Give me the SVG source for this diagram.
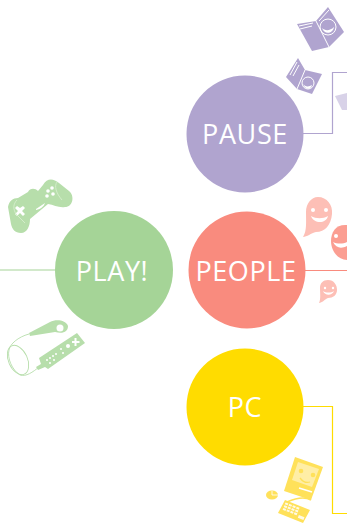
<svg xmlns="http://www.w3.org/2000/svg" width="347" height="523" viewBox="0 0 347 523">
<style>
.t{font-family:"Open Sans","Liberation Sans",sans-serif;font-size:27px;font-weight:500;letter-spacing:.6px;fill:#fff;text-anchor:middle}
.c{fill:none;stroke-width:1.2}
.pu{fill:#b0a4cf}.sa{fill:#fdbfb6}.gr{fill:#b7deab}.ye{fill:#ffe15a}
.w{fill:#fff}
.l{fill:none;stroke:#fff;stroke-width:1}
.cord{fill:none;stroke:#b7deab;stroke-width:.9}
</style>
<g id="connectors">
<path class="c" stroke="#b0a4cf" d="M303,133.500H332.500V72.500H347"/>
<path class="c" stroke="#f98b7e" d="M305,270.500H347"/>
<path class="c" stroke="#a5d497" d="M0,270H56"/>
<path class="c" stroke="#ffdc00" d="M303,406.500H332.500V513.500H347"/>
</g>
<g id="pause-icons">
<path class="pu" d="M297,24 L316,21 L328,7 L344,32 L329,47 L312,51 Z"/>
<path class="l" d="M316,21 L329,47 M299,26 L313,23 M300,29 L312,26 M319,21 L329,10"/>
<circle class="l" cx="328" cy="27" r="8"/><path class="w" d="M322,28 C325,31 330,31 334,27 C333,34 324,35 322,28 Z"/>
<path class="pu" d="M286,77 L298,58 L305,70 L322,74 L312,94 L297,89 Z"/>
<path class="l" d="M305,70 L297,89 M297,62 L290,75 M299,65 L293,76"/>
<circle class="l" cx="308" cy="83" r="6"/><path class="w" d="M303,84 C305,87 309,87 312,85 C311,90 305,90 303,84 Z"/>
<path d="M335,96 L347,93 V110 H342 Z" fill="#d8d2e8"/>
</g>
<g id="pause"><circle class="pu" cx="245" cy="134" r="58.500"/><text class="t" x="245" y="143.500">PAUSE</text></g>
<g id="people-icons">
<path class="sa" d="M318,197 C327,197 333,205 332,214 C331,225 325,232 316,232 C311,233 307,237 303,237 C307,231 306,222 306,212 C306,204 311,197 318,197 Z"/>
<circle class="w" cx="313" cy="210" r="2"/><circle class="w" cx="326" cy="210" r="2"/>
<path class="w" d="M311,216 C316,219 323,219 328,216 C326,224 314,224 311,216 Z"/>
<path d="M347,225 C336,224 331,232 331,241 C331,251 338,260 347,260 Z" fill="#fb9e92"/>
<circle class="w" cx="336" cy="236" r="2"/>
<path class="w" d="M333,242 C337,244 343,244 347,242 V246 C341,249 336,248 333,242 Z"/>
<path class="sa" d="M328,280 C334,280 337,285 337,290 C337,295 333,298 328,298 C325,299 322,303 319,303 C321,299 320,293 320,288 C320,283 323,280 328,280 Z"/>
<circle class="w" cx="325" cy="288" r="1.200"/><circle class="w" cx="333" cy="288" r="1.200"/>
<path class="w" d="M323,291 C326,293 331,293 334,291 C332,296 325,296 323,291 Z"/>
</g>
<g id="people"><circle fill="#f98b7e" cx="247" cy="270" r="58.500"/><text class="t" x="246" y="280.500">PEOPLE</text></g>
<g id="play-icons">
<path class="gr" d="M8,207 C9,201 13,198 18,198 L28,192 C30,188 35,188 38,191 L43,185 C47,178 53,178 59,183 L69,191 C75,196 73,207 65,207 C59,208 54,205 48,204 L30,219 C30,226 27,233 21,233 C15,233 12,229 11,224 Z"/>
<path class="w" d="M15,208 l2,-2 l3,2 l3,-2 l2,2 l-3,3 l3,3 l-2,2 l-3,-3 l-3,3 l-2,-2 l3,-3 Z"/>
<g class="w"><circle cx="48" cy="191" r="1.800"/><circle cx="52" cy="188" r="1.800"/><circle cx="53" cy="194" r="1.800"/><circle cx="47" cy="196" r="1.800"/></g>
<path class="w" d="M36,209 L45,203 C44,206 41,209 36,210 Z"/>
<path class="cord" style="stroke:#d6eecd" d="M17,200 C13,204 13,209 16,214 L25,223 M57,182 C54,186 56,193 62,200"/>
<path class="gr" d="M29,333 L50,322 C56,319 66,320 68,326 C68,332 63,334 55,332 L30,336 Z"/>
<circle class="w" cx="60" cy="328" r="3.500"/>
<path class="cord" d="M29,334 C18,337 10,344 9,350 C7,358 12,370 20,375 C26,377 33,372 39,367"/>
<ellipse class="cord" cx="18" cy="360" rx="9.500" ry="15.500" transform="rotate(-24 18 360)"/>
<path class="gr" d="M39,358 L77,333 L85,343 L48,369 L45,367 L38,370 L36,367 L41,364 Z"/>
<g class="w"><path d="M72,341 h2.500 v-3 h2 v3 h3 v2 h-3 v3 h-2 v-3 h-2.500 Z"/><circle cx="68" cy="346" r="2"/><circle cx="50" cy="358" r="1"/><circle cx="53" cy="356" r="1"/><circle cx="56" cy="354" r="1"/><circle cx="47" cy="360" r="1"/><circle cx="50" cy="363" r="1"/><circle cx="54" cy="360" r="1"/><circle cx="61" cy="349" r="1"/><circle cx="63" cy="353" r="1"/></g>
</g>
<g id="play"><circle fill="#a5d497" cx="114" cy="270" r="59"/><text class="t" x="112" y="280.500">PLAY!</text></g>
<g id="pc-icons">
<path class="ye" d="M295,457 L323,467 L311,500 L284,491 Z"/>
<path d="M298,462 L319,469 L312,487 L292,480 Z" fill="#ffeea6"/>
<circle class="ye" cx="301" cy="471" r="2.300"/><circle class="ye" cx="313" cy="475" r="2.300"/>
<path d="M300,478 C303,482 307,483 310,482" fill="none" stroke="#ffe15a" stroke-width="1.300"/>
<path d="M299,488 L312,492" stroke="#fff" stroke-width="1.500"/>
<path d="M311,500 C304,496 296,498 287,502" fill="none" stroke="#ffe15a" stroke-width="1.500"/>
<path class="ye" d="M285,500 L310,510 L303,523 L278,513 Z"/>
<g class="w" transform="translate(294,511) rotate(21)" opacity=".85"><rect x="-11" y="-5" width="3" height="2"/><rect x="-7" y="-5" width="3" height="2"/><rect x="-3" y="-5" width="3" height="2"/><rect x="1" y="-5" width="3" height="2"/><rect x="-11" y="-2" width="3" height="2"/><rect x="-7" y="-2" width="3" height="2"/><rect x="-3" y="-2" width="3" height="2"/><rect x="1" y="-2" width="3" height="2"/><rect x="-11" y="1" width="3" height="2"/><rect x="-7" y="1" width="3" height="2"/><rect x="-3" y="1" width="3" height="2"/><rect x="1" y="1" width="3" height="2"/><rect x="6" y="2" width="6" height="3"/></g>
<ellipse class="ye" cx="272" cy="495" rx="6" ry="4.500"/>
<path d="M272,491 V495 H278" stroke="#fff" stroke-width=".8" fill="none"/>
</g>
<g id="pc"><circle fill="#ffdc00" cx="245" cy="407" r="58.500"/><text class="t" x="245" y="417">PC</text></g>
</svg>
